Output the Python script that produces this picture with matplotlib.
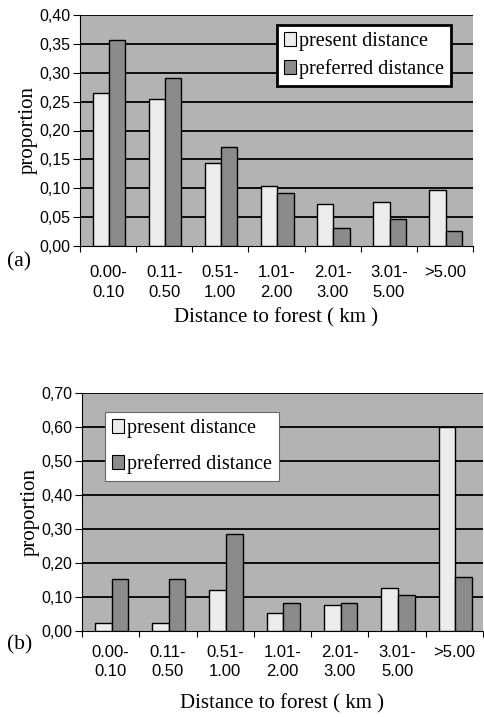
import matplotlib
matplotlib.use("Agg")
import matplotlib.pyplot as plt
import numpy as np
from matplotlib.patches import Patch

categories = ["0.00-\n0.10", "0.11-\n0.50", "0.51-\n1.00", "1.01-\n2.00", "2.01-\n3.00", "3.01-\n5.00", ">5.00"]
present_a = [0.265, 0.255, 0.143, 0.104, 0.073, 0.077, 0.097]
preferred_a = [0.357, 0.291, 0.172, 0.092, 0.031, 0.046, 0.026]
present_b = [0.024, 0.024, 0.121, 0.053, 0.076, 0.126, 0.600]
preferred_b = [0.154, 0.154, 0.284, 0.081, 0.083, 0.107, 0.160]
yticks_a = [0.0, 0.05, 0.10, 0.15, 0.20, 0.25, 0.30, 0.35, 0.40]
yticks_b = [0.0, 0.10, 0.20, 0.30, 0.40, 0.50, 0.60, 0.70]

BG = "#b3b3b3"
C_PRES = "#ececec"
C_PREF = "#8b8b8b"
SANS = "Liberation Sans"
SERIF = "Liberation Serif"

W, H = 484, 717
fig = plt.figure(figsize=(W / 100, H / 100), dpi=100)
fig.patch.set_facecolor("white")


def panel(rect, pres, pref, yticks, ymax, tag, tag_y, xpad, xlpad, leg_bbox, leg_lw, leg_ec, leg_spacing):
    l, t, r, b = rect
    ax = fig.add_axes([l / W, 1 - b / H, (r - l) / W, (b - t) / H])
    ax.set_facecolor(BG)
    x = np.arange(len(categories))
    w = 0.29
    ax.bar(x - w / 2 + 0.015, pres, w, color=C_PRES, edgecolor="black", linewidth=1.0, zorder=3)
    ax.bar(x + w / 2 + 0.015, pref, w, color=C_PREF, edgecolor="black", linewidth=1.0, zorder=3)
    ax.set_xlim(-0.5, len(categories) - 0.5)
    ax.set_ylim(0, ymax)
    ax.set_yticks(yticks)
    ax.set_yticklabels([f"{v:.2f}".replace(".", ",") for v in yticks], family=SANS, fontsize=11.5)
    for v in yticks[1:]:
        ax.axhline(v, color="black", lw=1.3, zorder=1)
    # category boundary ticks
    ax.set_xticks(np.arange(-0.5, len(categories) - 0.4, 1.0))
    ax.set_xticklabels([])
    ax.set_xticks(x, minor=True)
    ax.set_xticklabels(categories, minor=True, family=SANS, fontsize=12, linespacing=1.35)
    ax.tick_params(axis="x", which="minor", length=0, pad=xpad)
    ax.tick_params(axis="x", which="major", length=4, direction="out", width=0.8)
    ax.tick_params(axis="y", length=5, direction="out", width=0.8, pad=2)
    for s in ["top", "right"]:
        ax.spines[s].set_visible(False)
    ax.spines["left"].set_linewidth(0.8)
    ax.spines["bottom"].set_linewidth(0.8)
    ax.set_ylabel("proportion", family=SERIF, fontsize=15, labelpad=1)
    ax.set_xlabel("Distance to forest ( km )", family=SERIF, fontsize=15, labelpad=xlpad)
    fig.text(7 / W, 1 - tag_y / H, tag, family=SERIF, fontsize=15.5, va="center", ha="left")
    handles = [Patch(facecolor=C_PRES, edgecolor="black", linewidth=0.8),
               Patch(facecolor=C_PREF, edgecolor="black", linewidth=0.8)]
    leg = ax.legend(handles, ["present distance", "preferred distance"], loc="upper left",
                    bbox_to_anchor=leg_bbox, bbox_transform=ax.transAxes,
                    prop={"family": SERIF, "size": 14.5}, frameon=True, fancybox=False,
                    handlelength=0.6, handleheight=0.7, handletextpad=0.15,
                    borderpad=0.35, labelspacing=leg_spacing, borderaxespad=0)
    leg.get_frame().set_edgecolor(leg_ec)
    leg.get_frame().set_linewidth(leg_lw)
    leg.get_frame().set_facecolor("white")
    leg.get_frame().set_alpha(1)
    leg.set_zorder(5)
    return ax


panel((80, 15, 473, 246), present_a, preferred_a, yticks_a, 0.40, "(a)", 262, 14, 6,
      ((277 - 80) / (473 - 80), 1 - (25 - 15) / (246 - 15)), 2.0, "black", 0.38)
panel((82, 393, 483, 631), present_b, preferred_b, yticks_b, 0.70, "(b)", 645, 10, 11,
      ((105 - 82) / (483 - 82), 1 - (412 - 393) / (631 - 393)), 0.8, "#666666", 0.8)

fig.savefig("out.png", dpi=100, facecolor="white")
